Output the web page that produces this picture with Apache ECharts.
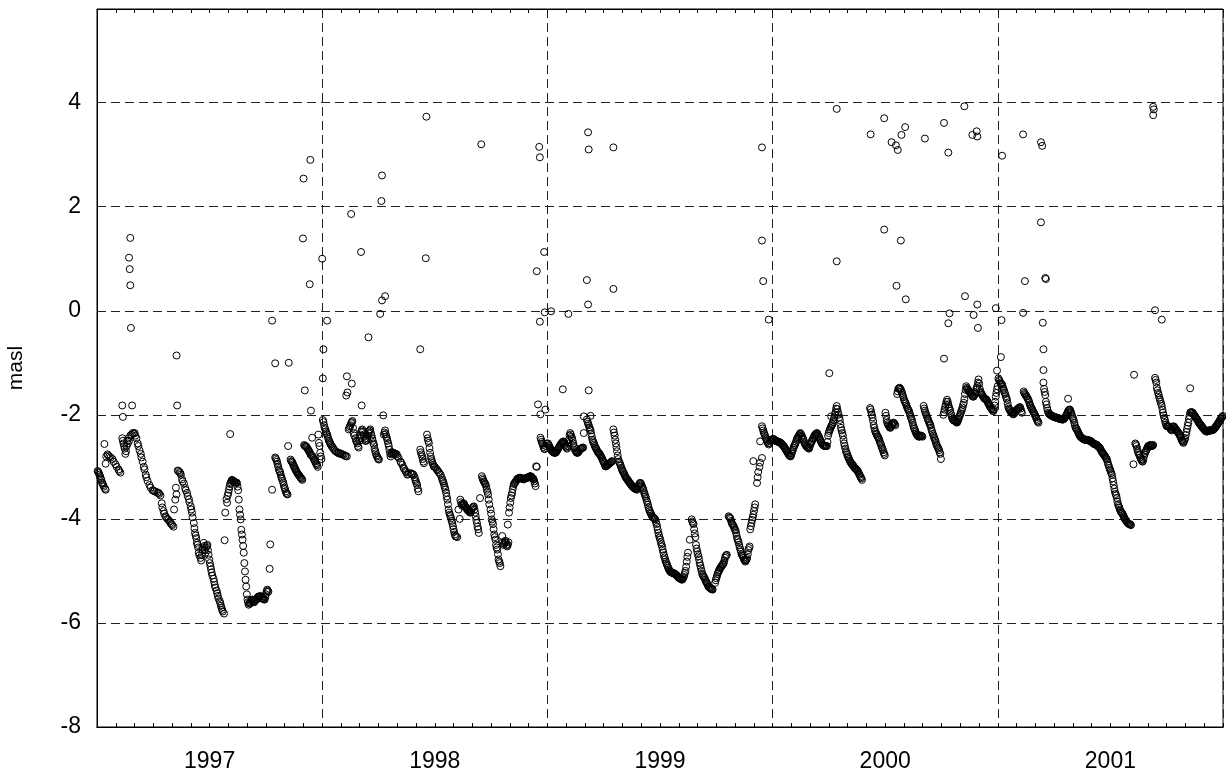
<!DOCTYPE html>
<html>
<head>
<meta charset="utf-8">
<script src="https://cdn.jsdelivr.net/npm/echarts@6/dist/echarts.min.js"></script>
<style>
html,body{margin:0;padding:0;background:#fff;}
#chart{width:1226px;height:774px;}
</style>
</head>
<body>
<div id="chart"></div>
<script>
// Water level (masl) observations: [day of year, level]
const years = ['1997', '1998', '1999', '2000', '2001'];
const yTicks = [-8, -6, -4, -2, 0, 2, 4];

const main1997 = [[1,-3.08],[4,-3.15],[7,-3.25],[10,-3.35],[14,-3.44],[12,-2.56],[14,-2.94],[17,-2.76],[20,-2.8],[25,-2.85],[30,-2.95],[35,-3.05],[38,-3.11],
[41,-2.45],[43,-2.55],[45,-2.65],[46,-2.75],[48,-2.6],[49,-2.5],[51,-2.45],[54,-2.4],[58,-2.35],[61,-2.35],
[64,-2.45],[67,-2.6],[71,-2.75],[74,-2.9],[77,-3.05],[80,-3.2],[85,-3.35],[90,-3.45],[93,-3.47],[96,-3.48],[100,-3.5],[103,-3.55],
[105,-3.7],[108,-3.85],[111,-3.95],[114,-4.0],[118,-4.05],[121,-4.1],[124,-4.15],[125,-3.82],[127,-3.63],[129,-3.53],[128,-3.4],
[131,-3.07],[134,-3.1],[136,-3.15],[138,-3.24],[141,-3.32],[143,-3.41],[146,-3.5],[149,-3.62],[152,-3.76],[154,-3.88],[157,-4.08],[158,-4.18],[159,-4.27],[161,-4.37],[162,-4.46],[164,-4.55],[165,-4.65],[168,-4.75],
[169,-4.8],[171,-4.6],[173,-4.46],[174,-4.52],[176,-4.65],[177,-4.55],[179,-4.5],[181,-4.69],[182,-4.78],
[184,-4.91],[185,-4.97],[186,-5.03],[187,-5.09],[189,-5.15],[190,-5.21],[191,-5.27],[192,-5.32],[194,-5.38],[195,-5.43],[196,-5.48],[197,-5.53],[199,-5.58],[200,-5.62],[201,-5.67],[202,-5.71],[203,-5.75],[204,-5.78],[206,-5.82],
[207,-4.41],[208,-3.88],[211,-3.69],[212,-3.55],[214,-3.44],[216,-3.33],[219,-3.25],[222,-3.28],[225,-3.3],[227,-3.31],[229,-3.45],[230,-3.63],
[231,-3.82],[232,-3.92],[233,-4.01],[234,-4.21],[236,-4.4],[237,-4.52],[238,-4.65],[239,-4.85],[240,-5.01],[241,-5.17],[242,-5.3],
[243,-5.45],[245,-5.6],[246,-5.65],[249,-5.6],[252,-5.55],[255,-5.6],[259,-5.55],[262,-5.5],[265,-5.48],[268,-5.52],[272,-5.55],[274,-5.45],[276,-5.36],[278,-5.4],
[280,-4.96],[281,-4.49],[284,-3.44],
[289,-2.82],[292,-2.9],[294,-3.0],[297,-3.1],[299,-3.2],[302,-3.3],[304,-3.4],[306,-3.47],[309,-3.53],[310,-2.6],
[314,-2.86],[317,-2.92],[320,-3.0],[323,-3.08],[327,-3.15],[330,-3.2],[333,-3.25],
[336,-2.58],[340,-2.62],[343,-2.68],[346,-2.75],[349,-2.44],[350,-2.8],[353,-2.88],[356,-2.95],[358,-3.0],[360,-2.54],[362,-2.73],
[2,-3.1],[3,-3.12],[5,-3.18],[6,-3.22],[8,-3.3],[9,-3.32],[11,-3.38],[13,-3.42],[15,-2.8],[18,-2.78],[22,-2.82],[27,-2.9],[32,-3.0],[36,-3.08],
[42,-2.5],[44,-2.6],[47,-2.7],[50,-2.55],[52,-2.5],[56,-2.38],[60,-2.36],[62,-2.4],[66,-2.55],[69,-2.68],[72,-2.82],[76,-3.0],[79,-3.15],[82,-3.27],[87,-3.4],[92,-3.46],[98,-3.5],[101,-3.52],
[106,-3.78],[109,-3.9],[112,-3.97],[116,-4.02],[119,-4.08],[122,-4.12],[132,-3.08],[135,-3.12],[139,-3.28],[144,-3.45],[147,-3.56],[150,-3.68],[153,-3.82],[155,-3.97],[160,-4.32],[163,-4.5],[166,-4.7],
[170,-4.7],[172,-4.55],[175,-4.6],[178,-4.52],[180,-4.6],[183,-4.85],[210,-3.62],[213,-3.5],[215,-3.38],[217,-3.3],[218,-3.27],[220,-3.26],[221,-3.27],[223,-3.29],[224,-3.3],[226,-3.3],[228,-3.38],[235,-4.3],
[244,-5.55],[247,-5.62],[248,-5.63],[250,-5.58],[251,-5.56],[253,-5.58],[254,-5.6],[256,-5.58],[257,-5.56],[258,-5.55],[260,-5.52],[261,-5.5],[263,-5.49],[264,-5.5],[266,-5.5],[267,-5.52],[269,-5.53],[270,-5.54],[271,-5.55],[273,-5.5],[275,-5.4],[277,-5.38],
[290,-2.84],[291,-2.87],[293,-2.95],[295,-3.05],[296,-3.08],[298,-3.15],[300,-3.23],[301,-3.27],[303,-3.35],[305,-3.43],[307,-3.5],[308,-3.52],
[315,-2.89],[316,-2.9],[318,-2.95],[319,-2.98],[321,-3.03],[322,-3.05],[324,-3.1],[325,-3.12],[326,-3.14],[328,-3.17],[329,-3.19],[331,-3.22],[332,-3.23],
[337,-2.6],[338,-2.6],[339,-2.61],[341,-2.64],[342,-2.66],[344,-2.7],[345,-2.72],[347,-2.77],[348,-2.78],[351,-2.83],[352,-2.86],[354,-2.9],[355,-2.93],[357,-2.97],[361,-2.6],[363,-2.8],[364,-2.85]];
const spikes1997 = [[54,1.40],[52,1.02],[53,0.8],[54,0.49],[55,-0.33],[41,-1.82],[57,-1.82],[42,-2.04],[129,-0.86],[130,-1.82],[216,-2.37],[284,-0.19],[289,-1.01],[311,-1.0],[335,2.54],[346,2.90],[334,1.39],[345,0.51],[337,-1.53],[347,-1.92],[359,-2.38]];

const main1998 = [[2,-2.14],[5,-2.28],[8,-2.38],[10,-2.46],[13,-2.55],[17,-2.62],[20,-2.68],[24,-2.72],[27,-2.74],[30,-2.75],[33,-2.76],[35,-2.77],[37,-2.79],[40,-2.8],
[43,-2.28],[46,-2.2],[49,-2.12],[51,-2.35],[54,-2.45],[57,-2.55],[59,-2.63],
[62,-2.4],[65,-2.28],[67,-2.38],[70,-2.5],[73,-2.45],[75,-2.35],[78,-2.28],[81,-2.45],[84,-2.58],[86,-2.7],[89,-2.8],[92,-2.86],
[100,-2.38],[102,-2.3],[105,-2.45],[108,-2.6],[111,-2.8],[114,-2.72],[117,-2.74],[121,-2.76],[124,-2.83],[127,-2.9],[130,-2.96],[132,-3.02],[135,-3.08],[138,-3.15],[143,-3.12],[148,-3.15],[151,-3.25],[154,-3.35],[156,-3.47],
[159,-2.67],[162,-2.8],[165,-2.93],
[170,-2.38],[173,-2.54],[175,-2.73],[178,-2.89],[181,-2.99],[184,-3.02],[186,-3.05],[189,-3.1],[192,-3.15],[194,-3.21],[197,-3.31],[200,-3.44],[203,-3.63],[205,-3.82],[208,-3.95],[211,-4.08],[213,-4.2],[216,-4.33],[219,-4.35],
[221,-3.82],[223,-4.0],[224,-3.63],[227,-3.75],[229,-3.7],[232,-3.76],[235,-3.82],[238,-3.85],[240,-3.88],[243,-3.8],[246,-3.76],[248,-3.88],[251,-4.08],[254,-4.27],[256,-3.6],
[259,-3.18],[262,-3.28],[265,-3.34],[267,-3.44],[269,-3.53],[270,-3.63],[271,-3.72],[273,-3.82],[274,-3.9],[275,-4.01],[277,-4.1],[278,-4.2],[279,-4.3],[281,-4.4],[282,-4.5],[284,-4.59],[285,-4.68],[286,-4.78],[288,-4.85],[289,-4.91],
[292,-4.33],[293,-4.45],[294,-4.5],[297,-4.42],[300,-4.53],[302,-4.45],
[301,-4.11],[303,-3.88],[305,-3.69],[308,-3.5],[310,-3.37],[313,-3.3],[316,-3.24],[321,-3.21],[324,-3.23],[327,-3.24],[332,-3.21],[335,-3.2],[338,-3.18],[341,-3.22],[343,-3.24],[346,-3.37],[348,-3.0],
[354,-2.44],[357,-2.55],[360,-2.65],
[1,-2.1],[3,-2.2],[4,-2.25],[6,-2.32],[7,-2.35],[9,-2.42],[11,-2.5],[12,-2.52],[14,-2.57],[15,-2.6],[18,-2.65],[22,-2.7],[26,-2.73],[29,-2.74],[32,-2.76],[38,-2.79],
[44,-2.25],[45,-2.22],[47,-2.16],[48,-2.14],[50,-2.25],[52,-2.4],[55,-2.5],[56,-2.52],[58,-2.6],[60,-2.5],[61,-2.45],[63,-2.33],[64,-2.3],[66,-2.33],[68,-2.42],[69,-2.46],[71,-2.5],[72,-2.48],[74,-2.4],[76,-2.32],[77,-2.3],[79,-2.35],[80,-2.4],[82,-2.5],[83,-2.55],[85,-2.65],[87,-2.74],[88,-2.78],[90,-2.83],[91,-2.85],
[101,-2.34],[103,-2.37],[104,-2.42],[106,-2.5],[107,-2.55],[109,-2.67],[110,-2.74],[112,-2.76],[113,-2.74],[115,-2.73],[116,-2.74],[119,-2.75],[122,-2.8],[128,-2.92],[133,-3.04],[136,-3.1],[140,-3.14],[145,-3.13],[146,-3.14],[150,-3.2],[152,-3.28],[153,-3.32],[155,-3.42],
[160,-2.72],[161,-2.76],[163,-2.85],[164,-2.9],[171,-2.45],[172,-2.5],[174,-2.64],[176,-2.8],[177,-2.85],[179,-2.93],[180,-2.96],[182,-3.0],[187,-3.07],[190,-3.12],[195,-3.25],[196,-3.28],[198,-3.36],[199,-3.4],[201,-3.5],[202,-3.57],[204,-3.72],[206,-3.88],[207,-3.92],[209,-3.99],[210,-4.04],[212,-4.14],[214,-4.25],[215,-4.3],[217,-4.34],
[225,-3.68],[226,-3.72],[228,-3.72],[230,-3.71],[231,-3.74],[233,-3.78],[234,-3.8],[236,-3.83],[237,-3.84],[239,-3.87],[241,-3.86],[242,-3.83],[244,-3.78],[245,-3.77],[247,-3.82],[249,-3.95],[250,-4.02],[252,-4.15],[253,-4.2],
[260,-3.22],[261,-3.25],[263,-3.3],[264,-3.32],[266,-3.38],[268,-3.48],[276,-4.05],[280,-4.35],[283,-4.55],[287,-4.82],[295,-4.48],[296,-4.45],[298,-4.45],[299,-4.5],[301,-4.5],
[304,-3.78],[306,-3.6],[307,-3.55],[309,-3.43],[311,-3.33],[312,-3.31],[314,-3.28],[315,-3.26],[317,-3.23],[318,-3.22],[319,-3.22],[320,-3.21],[322,-3.21],[323,-3.22],[325,-3.23],[326,-3.24],[328,-3.23],[329,-3.22],[330,-3.22],[331,-3.21],[333,-3.21],[334,-3.2],[336,-3.19],[337,-3.18],[339,-3.19],[340,-3.2],[342,-3.23],[344,-3.28],[345,-3.32],
[355,-2.48],[356,-2.52],[358,-2.58],[359,-2.62],[361,-2.66],[363,-2.6],[364,-2.55]];
const spikes1998 = [[0,1.0],[2,-0.74],[1,-1.30],[8,-0.19],[47,1.86],[63,1.13],[75,-0.51],[96,2.11],[97,2.6],[94,-0.06],[97,0.2],[102,0.28],[159,-0.74],[168,1.01],[169,3.73],[40,-1.26],[48,-1.40],[41,-1.57],[39,-1.63],[64,-1.82],[99,-2.01],[258,3.2],[348,0.76],[352,3.15],[353,2.95],[360,1.13],[353,-0.21],[361,-0.03],[350,-1.8],[354,-1.99],[362,-1.9],[347,-2.99]];

const main1999 = [[2,-2.58],[5,-2.65],[8,-2.7],[13,-2.73],[16,-2.68],[19,-2.62],[23,-2.55],[26,-2.51],[29,-2.58],[32,-2.65],[34,-2.55],[37,-2.35],[40,-2.45],[43,-2.6],[45,-2.68],[48,-2.73],[51,-2.7],[53,-2.66],[56,-2.64],[58,-2.63],[59,-2.35],[59,-2.03],[70,-2.02],
[64,-2.09],[67,-2.2],[70,-2.3],[72,-2.42],[75,-2.54],[79,-2.65],[83,-2.73],[87,-2.8],[91,-2.9],[94,-2.99],[99,-2.95],[102,-2.92],[105,-2.89],
[107,-2.28],[109,-2.4],[111,-2.55],[113,-2.7],[115,-2.85],[118,-2.95],[121,-3.05],[124,-3.12],[126,-3.18],[129,-3.23],[132,-3.28],[135,-3.33],[137,-3.36],[140,-3.4],[143,-3.42],[145,-3.44],[148,-3.36],[151,-3.31],[153,-3.36],[156,-3.45],[159,-3.57],[162,-3.68],[164,-3.78],[167,-3.88],[170,-3.95],[172,-3.98],[175,-4.01],[178,-4.15],[180,-4.27],[183,-4.4],[186,-4.53],[188,-4.65],[191,-4.78],[194,-4.88],[197,-4.97],[199,-5.01],[203,-5.04],[206,-5.05],[209,-5.08],[212,-5.12],[216,-5.15],[218,-5.17],[221,-5.12],[224,-5.0],[226,-4.82],[228,-4.65],
[231,-4.4],
[234,-4.01],[237,-4.1],[238,-4.2],[240,-4.35],[241,-4.5],[243,-4.63],[245,-4.72],[247,-4.85],[249,-4.95],[251,-5.05],[253,-5.1],[256,-5.17],[259,-5.24],[261,-5.3],[264,-5.33],[267,-5.35],[268,-5.36],
[272,-5.23],[275,-5.1],[278,-5.0],[280,-4.95],[283,-4.9],[286,-4.85],[288,-4.75],[291,-4.69],
[294,-3.95],[297,-4.0],[299,-4.08],[302,-4.14],[305,-4.22],[307,-4.33],[310,-4.45],[313,-4.59],[315,-4.68],[318,-4.75],[321,-4.82],[324,-4.75],[326,-4.6],[328,-4.53],[329,-4.2],[331,-4.08],[334,-3.92],[337,-3.72],
[340,-3.31],[341,-3.2],[342,-3.1],[344,-3.0],[345,-2.92],[348,-2.83],[334,-2.89],
[348,-2.22],[350,-2.3],[353,-2.4],[355,-2.47],[357,-2.52],[359,-2.57],[345,-2.51],[361,-2.5],[363,-2.48],
[1,-2.55],[3,-2.6],[4,-2.63],[6,-2.67],[7,-2.69],[9,-2.71],[10,-2.72],[11,-2.73],[12,-2.73],[14,-2.72],[15,-2.7],[17,-2.66],[18,-2.64],[20,-2.6],[21,-2.58],[22,-2.56],[24,-2.53],[25,-2.52],[27,-2.53],[28,-2.56],[30,-2.61],[31,-2.63],[33,-2.6],[35,-2.48],[36,-2.4],[38,-2.38],[39,-2.42],[41,-2.5],[42,-2.55],[44,-2.64],[46,-2.7],[47,-2.72],[49,-2.73],[50,-2.72],[52,-2.68],[54,-2.65],[55,-2.65],[57,-2.63],
[65,-2.13],[66,-2.17],[68,-2.24],[69,-2.27],[71,-2.36],[73,-2.48],[74,-2.51],[76,-2.57],[77,-2.6],[78,-2.63],[80,-2.67],[81,-2.7],[82,-2.72],[84,-2.74],[85,-2.76],[86,-2.78],[88,-2.82],[89,-2.85],[90,-2.88],[92,-2.93],[93,-2.96],[95,-2.99],[96,-2.98],[97,-2.97],[98,-2.96],[100,-2.94],[101,-2.93],[103,-2.91],[104,-2.9],
[108,-2.34],[110,-2.48],[112,-2.62],[114,-2.78],[116,-2.9],[117,-2.92],[119,-2.98],[120,-3.02],[122,-3.08],[123,-3.1],[125,-3.15],[127,-3.2],[128,-3.22],[130,-3.25],[131,-3.27],[133,-3.3],[134,-3.32],[136,-3.35],[138,-3.38],[139,-3.39],[141,-3.41],[142,-3.42],[144,-3.43],[146,-3.42],[147,-3.38],[149,-3.33],[150,-3.31],[152,-3.33],[154,-3.39],[155,-3.42],[157,-3.5],[158,-3.53],[160,-3.6],[161,-3.65],[163,-3.73],[165,-3.82],[166,-3.85],[168,-3.9],[169,-3.93],[171,-3.97],[173,-3.99],[174,-4.0],[176,-4.06],[177,-4.1],[179,-4.21],[181,-4.32],[182,-4.36],[184,-4.45],[185,-4.49],[187,-4.59],[189,-4.7],[190,-4.74],[192,-4.82],[193,-4.85],[195,-4.91],[196,-4.94],[198,-4.99],[200,-5.02],[201,-5.03],[202,-5.03],[204,-5.04],[205,-5.05],[207,-5.06],[208,-5.07],[210,-5.09],[211,-5.1],[213,-5.13],[214,-5.14],[215,-5.14],[217,-5.16],[219,-5.16],[220,-5.14],[222,-5.08],[223,-5.04],[225,-4.92],[227,-4.73],
[235,-4.05],[236,-4.08],[239,-4.28],[242,-4.57],[244,-4.68],[246,-4.78],[248,-4.9],[250,-5.0],[252,-5.08],[254,-5.12],[255,-5.14],[257,-5.2],[258,-5.22],[260,-5.27],[262,-5.31],[263,-5.32],[265,-5.34],[266,-5.35],
[273,-5.18],[274,-5.14],[276,-5.06],[277,-5.03],[279,-4.98],[281,-4.93],[282,-4.92],[284,-4.88],[285,-4.87],[287,-4.8],[289,-4.72],[290,-4.7],
[295,-3.97],[296,-3.98],[298,-4.04],[300,-4.1],[301,-4.12],[303,-4.17],[304,-4.2],[306,-4.27],[308,-4.38],[309,-4.41],[311,-4.5],[312,-4.55],[314,-4.63],[316,-4.7],[317,-4.72],[319,-4.78],[320,-4.8],[322,-4.8],[323,-4.78],[325,-4.68],[327,-4.56],[330,-4.14],[332,-4.02],[333,-3.97],[335,-3.85],[336,-3.78],
[349,-2.26],[351,-2.34],[352,-2.37],[354,-2.44],[356,-2.5],[358,-2.55],[360,-2.54],[362,-2.49],[364,-2.47]];
const spikes1999 = [[6,-0.01],[34,-0.06],[25,-1.51],[66,3.43],[67,3.1],[64,0.59],[66,0.12],[67,-1.53],[107,3.14],[107,0.42],[348,3.14],[348,1.35],[350,0.57],[359,-0.17]];

const main2000 = [[2,-2.47],[4,-2.5],[7,-2.51],[9,-2.52],[14,-2.55],[19,-2.62],[24,-2.72],[29,-2.8],[32,-2.7],[37,-2.55],[42,-2.41],[45,-2.35],[48,-2.42],[51,-2.52],[56,-2.62],[59,-2.65],[61,-2.57],[64,-2.5],[67,-2.42],[72,-2.35],[75,-2.42],[78,-2.5],[81,-2.57],[85,-2.6],[88,-2.6],[90,-2.4],[93,-2.28],[97,-2.18],[100,-2.05],[104,-1.83],[106,-1.95],[109,-2.1],[111,-2.25],[114,-2.4],[116,-2.55],[120,-2.73],[123,-2.82],[126,-2.9],[129,-2.95],[132,-3.0],[136,-3.05],[139,-3.1],[142,-3.18],[145,-3.25],
[158,-1.87],[160,-1.95],[162,-2.05],[164,-2.2],[166,-2.3],[169,-2.38],[172,-2.45],[174,-2.52],[177,-2.62],[180,-2.72],[182,-2.78],
[183,-1.96],[185,-2.1],[188,-2.2],[191,-2.25],[193,-2.2],[196,-2.15],[199,-2.2],
[202,-1.6],[204,-1.5],[206,-1.48],[209,-1.55],[211,-1.62],[213,-1.7],[216,-1.78],[218,-1.85],[221,-1.92],[223,-2.0],
[226,-2.1],[228,-2.2],[231,-2.3],[234,-2.38],[238,-2.42],[241,-2.4],[243,-2.42],
[245,-1.83],[247,-1.92],[250,-2.02],[253,-2.12],[256,-2.2],[258,-2.3],[261,-2.4],[264,-2.5],[266,-2.58],[269,-2.65],[272,-2.75],[273,-2.85],
[277,-2.0],[280,-1.85],[283,-1.71],[285,-1.8],[288,-1.92],[291,-2.05],[293,-2.1],[296,-2.12],[299,-2.15],[301,-2.1],[304,-2.0],[307,-1.9],[310,-1.77],[312,-1.6],[314,-1.45],
[316,-1.5],[319,-1.55],[322,-1.6],[325,-1.65],[328,-1.6],[332,-1.45],[334,-1.32],[337,-1.55],[340,-1.62],[343,-1.68],[347,-1.71],[350,-1.78],[353,-1.85],[356,-1.9],[358,-1.93],[361,-1.75],[364,-1.51],
[1,-2.46],[3,-2.48],[5,-2.5],[6,-2.5],[8,-2.51],[10,-2.52],[11,-2.53],[12,-2.53],[13,-2.54],[15,-2.56],[16,-2.58],[17,-2.59],[18,-2.6],[20,-2.64],[21,-2.66],[22,-2.68],[23,-2.7],[25,-2.74],[26,-2.76],[27,-2.78],[28,-2.79],[30,-2.78],[31,-2.74],[33,-2.67],[34,-2.63],[35,-2.6],[36,-2.58],[38,-2.52],[39,-2.48],[40,-2.45],[41,-2.43],[43,-2.39],[44,-2.37],[46,-2.37],[47,-2.4],[49,-2.45],[50,-2.48],[52,-2.55],[53,-2.57],[54,-2.59],[55,-2.61],[57,-2.63],[58,-2.64],[60,-2.62],[62,-2.55],[63,-2.52],[65,-2.47],[66,-2.45],[68,-2.4],[69,-2.38],[70,-2.37],[71,-2.36],[73,-2.37],[74,-2.4],[76,-2.45],[77,-2.48],[79,-2.53],[80,-2.55],[82,-2.58],[83,-2.59],[84,-2.6],[86,-2.6],[87,-2.6],[89,-2.52],[91,-2.35],[92,-2.31],[94,-2.25],[95,-2.22],[96,-2.2],[98,-2.14],[99,-2.1],[101,-2.0],[102,-1.95],[103,-1.88],[105,-1.89],[107,-2.0],[108,-2.05],[110,-2.18],[112,-2.3],[113,-2.35],[115,-2.48],[117,-2.6],[118,-2.65],[119,-2.7],[121,-2.76],[122,-2.8],[124,-2.85],[125,-2.88],[127,-2.92],[128,-2.94],[130,-2.97],[131,-2.98],[133,-3.02],[134,-3.03],[135,-3.04],[137,-3.07],[138,-3.08],[140,-3.13],[141,-3.15],[143,-3.2],[144,-3.22],
[159,-1.9],[161,-2.0],[163,-2.12],[165,-2.25],[167,-2.33],[168,-2.36],[170,-2.41],[171,-2.43],[173,-2.48],[175,-2.55],[176,-2.58],[178,-2.65],[179,-2.68],[181,-2.75],[184,-2.02],[186,-2.15],[187,-2.18],[189,-2.22],[190,-2.24],[192,-2.23],[194,-2.18],[195,-2.16],[197,-2.16],[198,-2.18],
[203,-1.55],[205,-1.49],[207,-1.5],[208,-1.52],[210,-1.58],[212,-1.66],[214,-1.73],[215,-1.76],[217,-1.82],[219,-1.88],[220,-1.9],[222,-1.96],[224,-2.04],[225,-2.07],[227,-2.15],[229,-2.24],[230,-2.27],[232,-2.33],[233,-2.36],[235,-2.4],[236,-2.41],[237,-2.42],[239,-2.41],[240,-2.4],[242,-2.41],
[246,-1.88],[248,-1.96],[249,-1.99],[251,-2.06],[252,-2.09],[254,-2.15],[255,-2.18],[257,-2.25],[259,-2.33],[260,-2.37],[262,-2.44],[263,-2.47],[265,-2.54],[267,-2.6],[268,-2.63],[270,-2.68],[271,-2.72],
[278,-1.95],[279,-1.9],[281,-1.8],[282,-1.75],[284,-1.75],[286,-1.85],[287,-1.88],[289,-1.97],[290,-2.01],[292,-2.08],[294,-2.11],[295,-2.11],[297,-2.13],[298,-2.14],[300,-2.13],[302,-2.07],[303,-2.03],[305,-1.97],[306,-1.93],[308,-1.86],[309,-1.81],[311,-1.7],[313,-1.52],[315,-1.48],[317,-1.52],[318,-1.54],[320,-1.57],[321,-1.58],[323,-1.62],[324,-1.64],[326,-1.65],[327,-1.62],[329,-1.57],[330,-1.52],[331,-1.48],[333,-1.38],[335,-1.4],[336,-1.5],[338,-1.58],[339,-1.6],[341,-1.64],[342,-1.66],[344,-1.69],[345,-1.7],[346,-1.7],[348,-1.73],[349,-1.76],[351,-1.8],[352,-1.83],[354,-1.87],[355,-1.88],[357,-1.92],[359,-1.9],[360,-1.82],[362,-1.65],[363,-1.58],[365,-1.45]];
const spikes2000 = [[104,3.88],[159,3.39],[181,3.70],[193,3.24],[200,3.18],[203,3.09],[209,3.38],[215,3.53],[247,3.31],[278,3.61],[285,3.04],[311,3.93],[324,3.38],[331,3.45],[332,3.35],[104,0.95],[181,1.56],[208,1.35],[201,0.48],[216,0.22],[312,0.28],[332,0.12],[326,-0.08],[333,-0.33],[287,-0.05],[285,-0.24],[278,-0.92],[362,0.05],[364,-1.15],[92,-1.2],[95,-2.03]];

const main2001 = [[4,-1.38],[7,-1.42],[9,-1.5],[12,-1.6],[15,-1.71],[17,-1.85],[20,-1.92],[23,-1.96],[25,-1.99],[28,-1.95],[31,-1.9],[33,-1.88],[36,-1.85],[39,-1.96],
[42,-1.55],[44,-1.6],[47,-1.65],[50,-1.72],[52,-1.8],[55,-1.88],[58,-1.95],[61,-2.02],[63,-2.08],[66,-2.15],
[74,-1.38],[75,-1.5],[77,-1.62],[78,-1.75],[80,-1.87],[82,-1.96],[85,-2.0],[88,-2.02],[91,-2.04],[95,-2.05],[98,-2.07],[102,-2.08],[106,-2.09],[109,-2.05],[112,-1.99],[114,-1.93],[117,-1.9],[120,-2.0],[123,-2.1],[125,-2.2],[128,-2.28],[131,-2.35],[133,-2.4],[136,-2.44],[139,-2.47],[142,-2.48],[144,-2.48],[147,-2.49],[150,-2.5],[153,-2.53],[155,-2.55],[158,-2.57],[161,-2.58],[163,-2.61],[166,-2.65],[168,-2.7],[171,-2.75],[174,-2.8],[177,-2.86],[179,-2.95],[182,-3.05],[185,-3.15],[187,-3.28],[189,-3.42],[192,-3.55],[194,-3.67],[197,-3.78],[199,-3.85],[202,-3.9],[204,-3.95],[206,-4.0],[209,-4.05],[211,-4.08],[214,-4.1],[216,-4.12],
[220,-2.95],[223,-2.55],[225,-2.6],[227,-2.7],[230,-2.78],[232,-2.85],[235,-2.9],[237,-2.8],[240,-2.7],[242,-2.65],[244,-2.6],[247,-2.58],[249,-2.6],[252,-2.58],
[255,-1.29],[257,-1.38],[258,-1.48],[260,-1.58],[263,-1.71],[266,-1.83],[268,-1.96],[271,-2.1],[274,-2.22],[277,-2.22],[279,-2.25],[282,-2.3],[285,-2.22],[287,-2.25],[290,-2.3],[293,-2.35],[296,-2.41],[298,-2.48],[301,-2.54],[304,-2.45],[306,-2.33],[309,-2.15],[312,-1.96],[315,-1.95],[317,-1.98],[320,-2.03],[323,-2.08],[325,-2.13],[328,-2.18],[331,-2.22],[333,-2.26],[336,-2.3],[339,-2.32],[342,-2.3],[344,-2.3],[347,-2.3],[350,-2.28],[352,-2.25],[355,-2.2],[358,-2.15],[361,-2.09],[363,-2.05],
[1,-1.3],[2,-1.33],[3,-1.35],[5,-1.4],[6,-1.41],[8,-1.46],[10,-1.53],[11,-1.57],[13,-1.64],[14,-1.68],[16,-1.78],[18,-1.88],[19,-1.9],[21,-1.94],[22,-1.95],[24,-1.98],[26,-1.98],[27,-1.96],[29,-1.93],[30,-1.91],[32,-1.89],[34,-1.87],[35,-1.86],[37,-1.88],[38,-1.93],
[43,-1.58],[45,-1.62],[46,-1.64],[48,-1.68],[49,-1.7],[51,-1.76],[53,-1.83],[54,-1.86],[56,-1.9],[57,-1.93],[59,-1.97],[60,-2.0],[62,-2.05],[64,-2.11],[65,-2.13],
[76,-1.56],[79,-1.8],[81,-1.92],[83,-1.98],[84,-1.99],[86,-2.01],[87,-2.01],[89,-2.03],[90,-2.03],[92,-2.04],[93,-2.05],[94,-2.05],[96,-2.06],[97,-2.06],[99,-2.07],[100,-2.07],[101,-2.08],[103,-2.08],[104,-2.09],[105,-2.09],[107,-2.08],[108,-2.07],[110,-2.03],[111,-2.01],[113,-1.96],[115,-1.91],[116,-1.9],[118,-1.93],[119,-1.96],[121,-2.04],[122,-2.07],[124,-2.15],[126,-2.24],[127,-2.26],[129,-2.3],[130,-2.33],[132,-2.38],[134,-2.42],[135,-2.43],[137,-2.45],[138,-2.46],[140,-2.47],[141,-2.48],[143,-2.48],[145,-2.48],[146,-2.49],[148,-2.49],[149,-2.5],[151,-2.51],[152,-2.52],[154,-2.54],[156,-2.56],[157,-2.56],[159,-2.57],[160,-2.58],[162,-2.6],[164,-2.62],[165,-2.63],[167,-2.67],[169,-2.72],[170,-2.73],[172,-2.77],[173,-2.78],[175,-2.82],[176,-2.84],[178,-2.9],[180,-2.98],[181,-3.02],[183,-3.08],[184,-3.12],[186,-3.22],[188,-3.35],[190,-3.48],[191,-3.52],[193,-3.6],[195,-3.72],[196,-3.75],[198,-3.82],[200,-3.87],[201,-3.88],[203,-3.92],[205,-3.97],[207,-4.02],[208,-4.03],[210,-4.07],[212,-4.09],[213,-4.1],[215,-4.11],
[224,-2.57],[226,-2.65],[228,-2.73],[229,-2.76],[231,-2.82],[233,-2.87],[234,-2.89],[236,-2.86],[238,-2.76],[239,-2.73],[241,-2.68],[243,-2.62],[245,-2.6],[246,-2.59],[248,-2.59],[250,-2.6],[251,-2.59],
[256,-1.33],[259,-1.53],[261,-1.62],[262,-1.67],[264,-1.75],[265,-1.79],[267,-1.9],[269,-2.01],[270,-2.06],[272,-2.15],[273,-2.19],[275,-2.22],[276,-2.22],[278,-2.23],[280,-2.27],[281,-2.28],[283,-2.27],[284,-2.24],[286,-2.23],[288,-2.27],[289,-2.28],[291,-2.32],[292,-2.33],[294,-2.37],[295,-2.39],[297,-2.44],[299,-2.5],[300,-2.52],[302,-2.51],[303,-2.48],[305,-2.39],[307,-2.27],[308,-2.21],[310,-2.08],[311,-2.02],[313,-1.95],[314,-1.95],[316,-1.96],[318,-2.0],[319,-2.01],[321,-2.05],[322,-2.07],[324,-2.1],[326,-2.15],[327,-2.16],[329,-2.2],[330,-2.21],[332,-2.24],[334,-2.27],[335,-2.28],[337,-2.31],[338,-2.32],[340,-2.32],[341,-2.31],[343,-2.3],[345,-2.3],[346,-2.3],[348,-2.29],[349,-2.29],[351,-2.27],[353,-2.24],[354,-2.22],[356,-2.19],[357,-2.17],[359,-2.13],[360,-2.11],[362,-2.07],[364,-2.04],[365,-2.02]];
const spikes2001 = [[7,2.98],[6,-0.18],[5,-0.89],[41,3.39],[70,3.24],[72,3.17],[252,3.92],[253,3.87],[252,3.76],[70,1.70],[44,0.57],[77,0.63],[78,0.61],[41,-0.04],[73,-0.23],[74,-0.74],[74,-1.14],[255,0.01],[266,-0.17],[221,-1.23],[312,-1.49],[114,-1.69]];

const observations = [
  [1997, main1997], [1997, spikes1997],
  [1998, main1998], [1998, spikes1998],
  [1999, main1999], [1999, spikes1999],
  [2000, main2000], [2000, spikes2000],
  [2001, main2001], [2001, spikes2001]
];

const points = [];
observations.forEach(([yr, arr]) => {
  arr.forEach(p => points.push([yr + p[0] / 365.25, p[1]]));
});

const FONT = "'Liberation Sans', Arial, Helvetica, sans-serif";
const dash = {type: [9, 5], color: '#222', width: 1};
const X_MIN = 1997, X_MAX = 2002, MONTH = 1 / 12;

function tickAxis(position) {
  return {
    type: 'value', min: X_MIN, max: X_MAX, interval: MONTH, position: position,
    axisLine: {show: true, onZero: false, lineStyle: {color: '#000', width: 1}},
    axisTick: {show: true, inside: true, length: 4, lineStyle: {color: '#000', width: 1}},
    axisLabel: {show: false},
    splitLine: {show: false}
  };
}

const chart = echarts.init(document.getElementById('chart'), null, {renderer: 'canvas'});
chart.setOption({
  animation: false,
  backgroundColor: '#fff',
  grid: {left: 97, right: 3, top: 9, bottom: 47, containLabel: false, outerBoundsMode: 'none',
         show: true, borderColor: '#000', borderWidth: 1, backgroundColor: 'transparent'},
  xAxis: [
    {
      type: 'value', min: X_MIN, max: X_MAX, interval: 1, position: 'bottom',
      axisLine: {show: true, onZero: false, lineStyle: {color: '#000', width: 1}},
      axisTick: {show: false},
      axisLabel: {show: false},
      splitLine: {show: true, lineStyle: dash}
    },
    tickAxis('bottom'),
    tickAxis('top'),
    {
      type: 'category', data: years, position: 'bottom', boundaryGap: true,
      axisLine: {show: false, onZero: false}, axisTick: {show: false}, splitLine: {show: false},
      axisLabel: {show: true, color: '#000', fontSize: 23, fontFamily: FONT, margin: 23}
    }
  ],
  yAxis: [{
    type: 'value', min: -8, max: 5.8, interval: 2,
    name: 'masl', nameLocation: 'middle', nameGap: 70, nameRotate: 90,
    nameTextStyle: {color: '#000', fontSize: 21, fontFamily: FONT},
    axisLine: {show: true, onZero: false, lineStyle: {color: '#000', width: 1}},
    axisTick: {show: false},
    axisLabel: {
      color: '#000', fontSize: 23, fontFamily: FONT, margin: 16,
      formatter: v => (yTicks.indexOf(v) >= 0 ? String(v) : '')
    },
    splitLine: {show: true, lineStyle: dash}
  }],
  series: [{
    type: 'scatter',
    xAxisIndex: 0, yAxisIndex: 0,
    data: points,
    symbol: 'circle',
    symbolSize: 7,
    itemStyle: {color: 'rgba(255,255,255,0)', borderColor: '#000', borderWidth: 1, opacity: 1},
    emphasis: {disabled: true},
    silent: true,
    clip: true
  }]
});
</script>
</body>
</html>
